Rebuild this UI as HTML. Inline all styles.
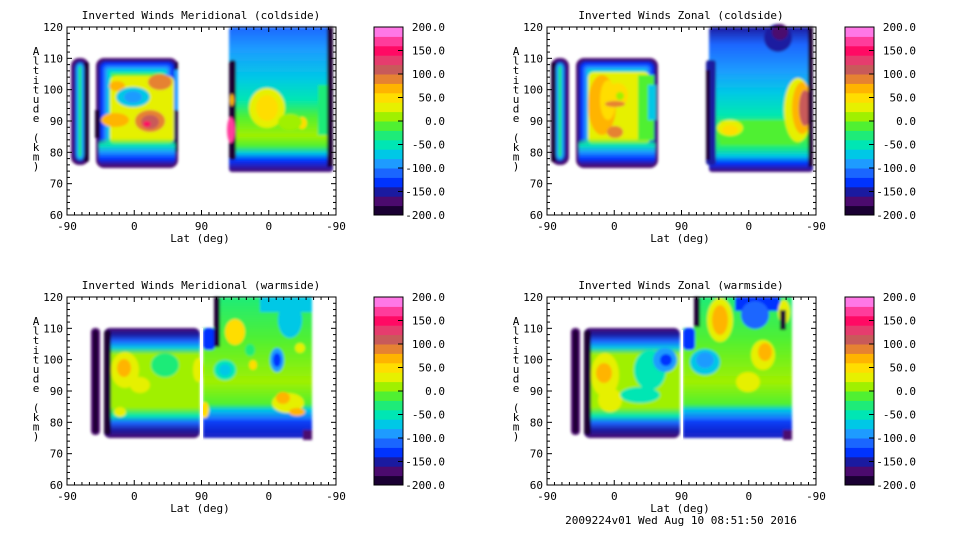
<!DOCTYPE html>
<html><head><meta charset="utf-8"><style>
html,body{margin:0;padding:0;background:#fff;}
svg{display:block;}
text{font-family:"DejaVu Sans Mono","Liberation Mono",monospace;font-size:11px;fill:#000;}
</style></head><body>
<svg id="s" width="960" height="540" xmlns="http://www.w3.org/2000/svg">
<defs>
<filter id="b" x="-10%" y="-10%" width="120%" height="120%"><feGaussianBlur stdDeviation="1.2"/></filter>
<linearGradient id="gC1" x1="0" y1="0" x2="0" y2="1">
<stop offset="0" stop-color="#1a66ff"/><stop offset="0.15" stop-color="#1e9bff"/><stop offset="0.35" stop-color="#00c8e6"/><stop offset="0.5" stop-color="#00e6b4"/><stop offset="0.62" stop-color="#50f032"/><stop offset="0.75" stop-color="#a0f000"/><stop offset="0.82" stop-color="#50f032"/><stop offset="0.87" stop-color="#00c8e6"/><stop offset="0.92" stop-color="#0033ff"/><stop offset="1" stop-color="#4b0a6e"/>
</linearGradient>
<linearGradient id="gC2" x1="0" y1="0" x2="0" y2="1">
<stop offset="0" stop-color="#1a1aa0"/><stop offset="0.12" stop-color="#1a66ff"/><stop offset="0.3" stop-color="#1e9bff"/><stop offset="0.45" stop-color="#00c8e6"/><stop offset="0.6" stop-color="#00e6b4"/><stop offset="0.75" stop-color="#50f032"/><stop offset="0.83" stop-color="#1eeb78"/><stop offset="0.89" stop-color="#00c8e6"/><stop offset="0.94" stop-color="#0033ff"/><stop offset="1" stop-color="#4b0a6e"/>
</linearGradient>
<linearGradient id="gW" x1="0" y1="0" x2="0" y2="1">
<stop offset="0" stop-color="#1eeb78"/><stop offset="0.3" stop-color="#50f032"/><stop offset="0.6" stop-color="#a0f000"/><stop offset="0.76" stop-color="#50f032"/><stop offset="0.8" stop-color="#00c8e6"/><stop offset="0.87" stop-color="#1a66ff"/><stop offset="0.94" stop-color="#1a1aa0"/><stop offset="1" stop-color="#4b0a6e"/>
</linearGradient>
<linearGradient id="gB" x1="0" y1="0" x2="0" y2="1">
<stop offset="0" stop-color="#4b0a6e"/><stop offset="0.06" stop-color="#1a1aa0"/><stop offset="0.12" stop-color="#1a66ff"/><stop offset="0.18" stop-color="#00c8e6"/><stop offset="0.24" stop-color="#a0f000"/><stop offset="0.72" stop-color="#a0f000"/><stop offset="0.8" stop-color="#00e6b4"/><stop offset="0.86" stop-color="#1a66ff"/><stop offset="0.93" stop-color="#1a1aa0"/><stop offset="1" stop-color="#4b0a6e"/>
</linearGradient>
<linearGradient id="gBot" x1="0" y1="0" x2="0" y2="1">
<stop offset="0" stop-color="#50f032" stop-opacity="0"/><stop offset="0.25" stop-color="#00e6b4"/><stop offset="0.5" stop-color="#1e9bff"/><stop offset="0.75" stop-color="#0033ff"/><stop offset="1" stop-color="#4b0a6e"/>
</linearGradient>
</defs>
<g id="root"></g>
</svg>
<script>
var C=['#1a0033','#4b0a6e','#1a1aa0','#0033ff','#1a66ff','#1e9bff','#00c8e6','#00e6b4','#1eeb78','#50f032','#a0f000','#e6f000','#ffdd00','#ffb400','#e68232','#c85a5a','#e63c6e','#ff0a64','#ff3c9b','#ff78e6'];
function nest(x,y,w,h,cols,step,rx){var s='';for(var i=0;i<cols.length;i++){var d=i*step;s+='<rect x="'+(x+d)+'" y="'+(y+d)+'" width="'+Math.max(1,w-2*d)+'" height="'+Math.max(1,h-2*d)+'" rx="'+Math.max(1,rx-d/2)+'" fill="'+cols[i]+'"/>';}return s;}
function el(cx,cy,rx,ry,c){return '<ellipse cx="'+cx+'" cy="'+cy+'" rx="'+rx+'" ry="'+ry+'" fill="'+c+'"/>';}
function r(x,y,w,h,c,rx){return '<rect x="'+x+'" y="'+y+'" width="'+w+'" height="'+h+'" rx="'+(rx||0)+'" fill="'+c+'"/>';}
function axes(title){
 var s='';
 s+='<rect x="67" y="27" width="269" height="188" fill="none" stroke="#000" stroke-width="1"/>';
 for(var i=0;i<=36;i++){var x=67+i*269/36;var L=(i%9==0)?5:3;s+='<line x1="'+x+'" y1="215" x2="'+x+'" y2="'+(215-L)+'" stroke="#000"/><line x1="'+x+'" y1="27" x2="'+x+'" y2="'+(27+L)+'" stroke="#000"/>';}
 for(var j=0;j<=30;j++){var y=215-j*188/30;var L=(j%5==0)?5:3;s+='<line x1="67" y1="'+y+'" x2="'+(67+L)+'" y2="'+y+'" stroke="#000"/><line x1="336" y1="'+y+'" x2="'+(336-L)+'" y2="'+y+'" stroke="#000"/>';}
 var yl=[60,70,80,90,100,110,120];for(var k=0;k<7;k++){var y=215-k*188/6;s+='<text x="63" y="'+(y+4)+'" text-anchor="end">'+yl[k]+'</text>';}
 var xl=['-90','0','90','0','-90'];for(var k=0;k<5;k++){s+='<text x="'+(67+k*269/4)+'" y="230" text-anchor="middle">'+xl[k]+'</text>';}
 s+='<text x="200" y="242" text-anchor="middle">Lat (deg)</text>';
 s+='<text x="201" y="19" text-anchor="middle">'+title+'</text>';
 var lab='Altitude (km)';for(var k=0;k<lab.length;k++){s+='<text x="36" y="'+(55+k*9.6)+'" text-anchor="middle">'+lab[k]+'</text>';}
 return s;}
function cbar(x){var s='';var h=188/20;for(var i=0;i<20;i++){s+='<rect x="'+x+'" y="'+(27+(19-i)*h)+'" width="29" height="'+(h+0.5)+'" fill="'+C[i]+'"/>';}
 s+='<rect x="'+x+'" y="27" width="29" height="188" fill="none" stroke="#000"/>';
 var labs=['200.0','150.0','100.0','50.0','0.0','-50.0','-100.0','-150.0','-200.0'];
 for(var k=0;k<9;k++){var y=27+k*23.5;s+='<text x="'+(x+71)+'" y="'+(y+4)+'" text-anchor="end">'+labs[k]+'</text>';if(k>0&&k<8)s+='<line x1="'+(x+24)+'" y1="'+y+'" x2="'+(x+29)+'" y2="'+y+'" stroke="#000"/>';}
 return s;}
var frame=[C[1],C[2],C[3],C[4],C[5],C[6],C[7],C[9]];
var p1='<g filter="url(#b)">'+nest(71,58,18,107,[C[1],C[2],C[5],C[8]],2.5,8)+r(84,62,5,100,C[0],2)
+nest(96,58,82,110,frame,2.2,8)+r(110,76,64,68,C[11],6)
+el(117,86,8,5,C[13])+el(160,82,12,8,C[14])+el(115,120,14,7,C[13])+el(133,97,17,10,C[6])+el(133,97,9,6,C[5])
+el(150,121,15,11,C[14])+el(150,122,9,7,C[15])+el(147,124,4,3,C[17])+r(95,110,5,28,C[0])+r(175,62,3,90,C[0])+r(174,70,4,40,C[5])
+'<rect x="99" y="138" width="76" height="28" rx="6" fill="url(#gBot)"/>'
+'<rect x="229" y="27" width="104" height="145" rx="3" fill="url(#gC1)"/>'+r(318,85,14,50,C[8])
+el(267,108,18,20,C[11])+el(267,108,11,13,C[12])+el(302,123,5,6,C[12])+el(290,122,12,8,C[10])
+r(229,60,7,100,C[0],3)+el(231,130,4,13,C[18])+el(232,100,2,6,C[13])+r(327,27,6,140,C[0])+'</g>';
var p2='<g filter="url(#b)">'+nest(71,58,18,107,[C[1],C[2],C[5],C[8]],2.5,8)+r(71,62,5,100,C[0],2)
+nest(96,58,82,110,frame,2.2,8)+r(108,72,62,72,C[11],6)+r(158,75,16,65,C[9])+r(168,85,8,35,C[6])
+el(122,105,14,30,C[13])+el(128,100,8,20,C[12])+el(138,95,10,12,C[12])+el(140,96,4,4,C[10])+el(135,104,10,3,C[14])+el(135,132,8,6,C[14])
+'<rect x="99" y="138" width="76" height="28" rx="6" fill="url(#gBot)"/>'
+'<rect x="229" y="27" width="104" height="145" rx="3" fill="url(#gC2)"/>'+el(298,38,14,14,C[2])+el(300,32,8,8,C[1])
+r(240,120,80,25,C[9])+el(250,128,13,8,C[11])+el(250,130,8,5,C[12])+el(318,110,14,32,C[11])+el(322,108,10,26,C[13])+el(325,108,6,18,C[15])
+r(226,60,10,105,C[2],3)+r(226,70,4,90,C[0])+r(328,27,5,140,C[0])+'</g>';
var p3='<g filter="url(#b)">'+nest(91,58,9,107,[C[1],C[0]],2,4)
+'<rect x="104" y="58" width="96" height="110" rx="6" fill="url(#gB)"/>'+r(104,60,7,105,C[0],3)
+el(125,100,14,18,C[11])+el(124,98,7,9,C[13])+el(140,115,10,8,C[11])+el(165,95,14,12,C[8])+el(198,100,5,12,C[11])+el(120,142,6,5,C[11])
+'<path d="M203 58 L214 58 L214 27 L312 27 L312 168 L203 168 Z" fill="url(#gW)"/>'
+r(203,58,12,22,C[3],4)+r(214,27,6,50,C[0])+r(260,27,52,15,C[6])+el(290,50,12,18,C[6])
+el(235,62,10,13,C[12])+el(225,100,11,10,C[7])+el(225,100,6,6,C[6])+el(250,80,5,6,C[8])+el(277,90,7,12,C[5])+el(277,90,4,7,C[3])
+el(253,95,4,5,C[12])+el(288,133,16,10,C[11])+el(283,128,7,6,C[13])+el(297,142,8,4,C[13])+el(300,78,5,5,C[11])+el(205,140,4,8,C[12])
+'<path d="M203 150 L312 150 L312 168 L203 168 Z" fill="'+C[3]+'" opacity="0.6"/>'+r(303,160,9,10,C[1])+'</g>';
var p4='<g filter="url(#b)">'+nest(91,58,9,107,[C[1],C[0]],2,4)
+'<rect x="104" y="58" width="96" height="110" rx="6" fill="url(#gB)"/>'+r(104,60,7,105,C[0],3)
+el(125,105,14,22,C[11])+el(124,103,8,10,C[13])+el(130,130,12,12,C[11])+el(170,100,16,20,C[7])+el(185,90,12,12,C[5])+el(186,90,6,6,C[3])+el(160,125,20,8,C[7])
+'<path d="M203 58 L214 58 L214 27 L312 27 L312 168 L203 168 Z" fill="url(#gW)"/>'
+r(203,58,12,22,C[3],4)+r(214,27,6,30,C[0])+r(255,27,45,14,C[3])+el(275,45,14,14,C[4])
+el(240,50,13,22,C[11])+el(240,50,8,15,C[13])+el(225,92,15,13,C[6])+el(225,90,9,8,C[5])
+el(283,85,12,15,C[11])+el(285,82,7,9,C[13])+el(268,112,12,10,C[11])+el(304,42,6,12,C[11])+r(300,40,6,20,C[0])
+'<path d="M203 150 L312 150 L312 168 L203 168 Z" fill="'+C[3]+'" opacity="0.6"/>'+r(303,160,9,10,C[1])+'</g>'
+'<rect x="201" y="60" width="2" height="110" fill="#fff"/>';
var out='';
out+='<g>'+p1+axes('Inverted Winds Meridional (coldside)')+cbar(374)+'</g>';
out+='<g transform="translate(480,0)">'+p2+axes('Inverted Winds Zonal (coldside)')+cbar(365)+'</g>';
out+='<g transform="translate(0,270)">'+p3+'<rect x="200" y="58" width="3" height="112" fill="#fff"/>'+axes('Inverted Winds Meridional (warmside)')+cbar(374)+'</g>';
out+='<g transform="translate(480,270)">'+p4+axes('Inverted Winds Zonal (warmside)')+cbar(365)+'<text x="201" y="254" text-anchor="middle">2009224v01 Wed Aug 10 08:51:50 2016</text></g>';
document.getElementById('root').innerHTML=out;
</script>
</body></html>
